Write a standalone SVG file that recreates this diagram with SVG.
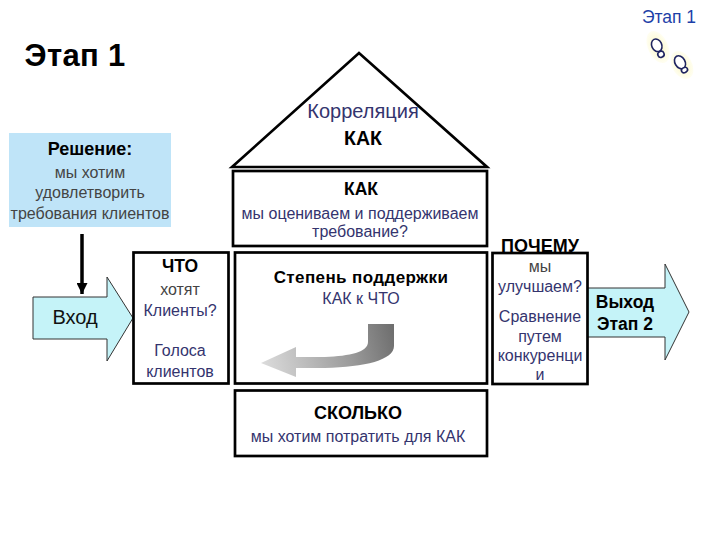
<svg xmlns="http://www.w3.org/2000/svg" width="720" height="540" viewBox="0 0 720 540">
<defs>
<linearGradient id="curve" gradientUnits="userSpaceOnUse" x1="394" y1="330" x2="261" y2="363"><stop offset="0" stop-color="#6e6e6e"/><stop offset="0.35" stop-color="#9a9a9a"/><stop offset="1" stop-color="#dcdcdc"/></linearGradient>
<radialGradient id="halo"><stop offset="0" stop-color="#fbf7c0"/><stop offset="1" stop-color="#fffef2"/></radialGradient>
<marker id="down" markerUnits="userSpaceOnUse" markerWidth="11" markerHeight="11" refX="11" refY="5.5" orient="auto" viewBox="0 0 11 11"><path d="M0 0L11 5.500L0 11Z" fill="#000"/></marker>
</defs>
<style>
text{font-family:"Liberation Sans",Arial,sans-serif;text-anchor:middle}
.box{fill:#fff;stroke:#000;stroke-width:2.7}
.arr{fill:#c5f3f8;stroke:#333;stroke-width:1}
.b{font-weight:bold;fill:#000}
.t{fill:#34346e;font-size:16px}
.g{fill:#444;font-size:16px}
.h{font-weight:bold;fill:#000;font-size:17.5px}
.foot{fill:#fff;stroke:#1f2460;stroke-width:1.6}
</style>
<rect width="720" height="540" fill="#fff"/>
<text x="669" y="23" font-size="17.500" fill="#1d3fa8">Этап 1</text>
<text x="75" y="66" font-size="31" class="b" letter-spacing="0.3">Этап 1</text>
<g id="footprints">
<ellipse cx="658" cy="47" rx="10" ry="17" fill="url(#halo)" transform="rotate(-25 658 47)"/>
<ellipse cx="682" cy="65" rx="10" ry="15" fill="url(#halo)" transform="rotate(-30 682 65)"/>
<g transform="rotate(-25 658 48)"><ellipse class="foot" cx="658" cy="45" rx="5" ry="6.500"/><ellipse class="foot" cx="658" cy="55" rx="3.200" ry="3"/></g>
<g transform="rotate(-30 681 64)"><ellipse class="foot" cx="681" cy="62" rx="5" ry="7"/><ellipse class="foot" cx="681" cy="71" rx="3.200" ry="2.500"/></g>
</g>
<g id="reshenie">
<rect x="9" y="133" width="162" height="94" fill="#bfe4f8"/>
<text x="90" y="155" font-size="18" class="b">Решение:</text>
<text x="90" y="178" class="g">мы хотим</text>
<text x="90" y="198" class="g">удовлетворить</text>
<text x="90" y="219" class="g">требования клиентов</text>
</g>
<g id="connectors">
<line x1="82" y1="234" x2="82" y2="294" stroke="#000" stroke-width="3.500" marker-end="url(#down)"/>
</g>
<g id="vhod">
<path class="arr" d="M33 297H107V277L133 318L107 361V339H33Z"/>
<text x="75" y="324" font-size="20" fill="#111">Вход</text>
</g>
<g id="chto">
<rect class="box" x="133.500" y="252.500" width="95" height="131"/>
<text x="180" y="272" class="h">ЧТО</text>
<text x="180" y="295" class="g">хотят</text>
<text x="180" y="316" class="t">Клиенты?</text>
<text x="180" y="356" class="t">Голоса</text>
<text x="180" y="377" class="t">клиентов</text>
</g>
<g id="roof">
<path d="M232 167L359 53L487 167Z" fill="#fff" stroke="#000" stroke-width="2.700"/>
<text x="363" y="118" font-size="20" fill="#34346e">Корреляция</text>
<text x="363" y="145" font-size="19.500" class="b">КАК</text>
</g>
<g id="kak">
<rect class="box" x="233" y="171" width="254" height="75"/>
<text x="361" y="195" class="h">КАК</text>
<text x="360" y="219" class="t">мы оцениваем и поддерживаем</text>
<text x="360" y="237" class="t">требование?</text>
</g>
<g id="stepen">
<rect class="box" x="235" y="252.500" width="252" height="131"/>
<text x="361" y="283" font-size="17" class="b" letter-spacing="0.4">Степень поддержки</text>
<text x="361" y="304" class="t">КАК к ЧТО</text>
<path d="M368 324H394V346C394 360 365 367 325 368H296V377L261 363L296 347V357H325C350 356 368 352 368 342Z" fill="url(#curve)"/>
</g>
<g id="skolko">
<rect class="box" x="235" y="390.500" width="252" height="65.500"/>
<text x="358" y="419" font-size="18" class="b">СКОЛЬКО</text>
<text x="358" y="442" font-size="16" fill="#34346e">мы хотим потратить для КАК</text>
</g>
<g id="vyhod">
<path class="arr" d="M587 288H665V264L689 312L665 360V337H587Z"/>
<text x="625" y="308" font-size="17.500" class="b">Выход</text>
<text x="625" y="330" font-size="17.500" class="b">Этап 2</text>
</g>
<g id="pochemu">
<text x="540" y="252" font-size="18" class="b">ПОЧЕМУ</text>
<rect class="box" x="492.500" y="253" width="95" height="131"/>
<text x="540" y="272" class="g">мы</text>
<text x="540" y="292" class="t">улучшаем?</text>
<text x="540" y="322" class="t">Сравнение</text>
<text x="540" y="342" class="t">путем</text>
<text x="540" y="361" class="t">конкуренци</text>
<text x="540" y="380" class="t">и</text>
</g>
</svg>
